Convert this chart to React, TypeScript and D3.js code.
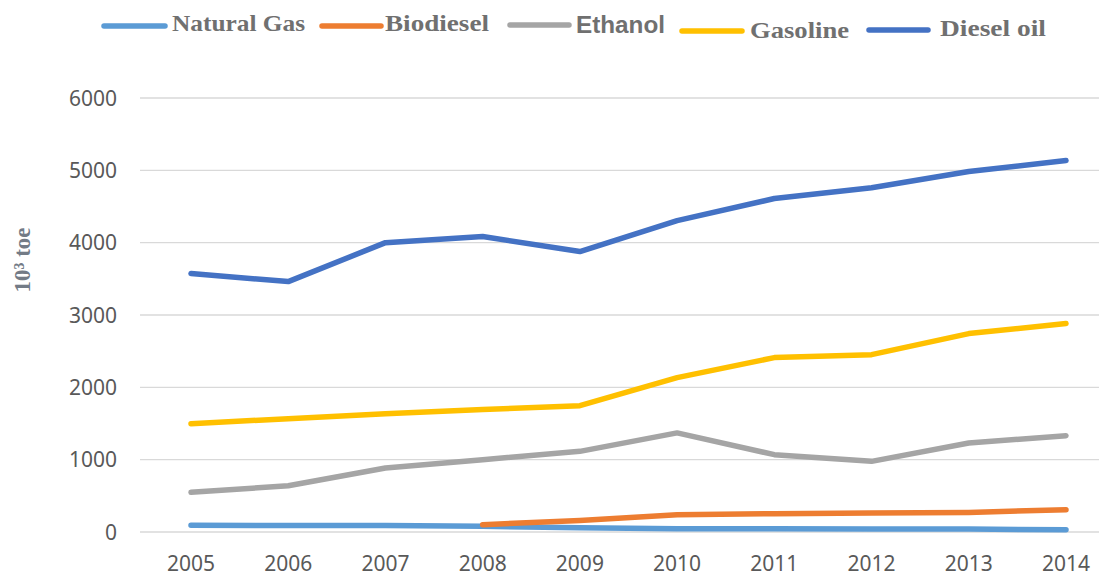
import React from 'react';
import * as d3 from 'd3';

const width = 1099;
const height = 576;

const years = ['2005', '2006', '2007', '2008', '2009', '2010', '2011', '2012', '2013', '2014'];
const yTicks = [0, 1000, 2000, 3000, 4000, 5000, 6000];

const naturalGas = [92, 90, 90, 78, 60, 46, 45, 42, 40, 32];
const biodiesel = [null, null, null, 101, 160, 240, 253, 263, 271, 308];
const ethanol = [548, 640, 885, 1000, 1115, 1370, 1069, 977, 1231, 1332];
const gasoline = [1498, 1567, 1636, 1692, 1747, 2134, 2411, 2452, 2743, 2881];
const dieselOil = [3573, 3462, 4000, 4085, 3877, 4305, 4610, 4760, 4985, 5135];

const seriesNames = ['Natural Gas', 'Biodiesel', 'Ethanol', 'Gasoline', 'Diesel oil'];
const seriesColors = ['#5b9bd5', '#ed7d31', '#a5a5a5', '#ffc000', '#4472c4'];
const seriesValues = [naturalGas, biodiesel, ethanol, gasoline, dieselOil];

// legend layout (line start, line end, line y, text start, text width, baseline)
const legendLayout = [
  { x1: 104, x2: 165, ly: 26, tx: 172, tw: 133, ty: 31, font: 'Liberation Serif' },
  { x1: 322, x2: 381, ly: 26, tx: 385, tw: 104, ty: 31, font: 'Liberation Serif' },
  { x1: 510, x2: 569, ly: 25, tx: 576, tw: 89, ty: 33, font: 'Liberation Sans' },
  { x1: 682, x2: 742, ly: 31, tx: 750, tw: 99, ty: 38, font: 'Liberation Serif' },
  { x1: 869, x2: 928, ly: 30, tx: 940, tw: 106, ty: 36, font: 'Liberation Serif' },
];

const App = () => {
  const x = d3.scalePoint<string>().domain(years).range([191, 1066]);
  const y = d3.scaleLinear().domain([0, 6000]).range([532, 98]);

  const line = d3
    .line<number | null>()
    .defined(d => d != null)
    .x((_, i) => x(years[i]) as number)
    .y(d => y(d as number));

  return (
    <svg
      width={width}
      height={height}
      style={{ position: 'absolute', left: 0, top: 0, background: '#fff' }}
    >
      {yTicks.map(t => (
        <g key={t}>
          <line x1={140} x2={width} y1={y(t)} y2={y(t)} stroke="#d9d9d9" strokeWidth={1.3} />
          <text
            x={117}
            y={y(t)}
            dy="0.36em"
            textAnchor="end"
            fontFamily="Noto Sans, sans-serif"
            fontSize={21}
            fill="#595959"
          >
            {t}
          </text>
        </g>
      ))}

      {years.map(yr => (
        <text
          key={yr}
          x={x(yr)}
          y={571}
          textAnchor="middle"
          fontFamily="Noto Sans, sans-serif"
          fontSize={21}
          fill="#595959"
        >
          {yr}
        </text>
      ))}

      <text
        transform="translate(30,260) rotate(-90)"
        textAnchor="middle"
        fontFamily="Liberation Serif, serif"
        fontWeight="bold"
        fontSize={23}
        fill="#737b86"
      >
        10³ toe
      </text>

      {seriesValues.map((vals, i) => (
        <path
          key={seriesNames[i]}
          d={line(vals) || ''}
          fill="none"
          stroke={seriesColors[i]}
          strokeWidth={5.5}
          strokeLinecap="round"
          strokeLinejoin="round"
        />
      ))}

      {seriesNames.map((name, i) => {
        const l = legendLayout[i];
        return (
          <g key={name}>
            <line
              x1={l.x1}
              x2={l.x2}
              y1={l.ly}
              y2={l.ly}
              stroke={seriesColors[i]}
              strokeWidth={5.5}
              strokeLinecap="round"
            />
            <text
              x={l.tx}
              y={l.ty}
              fontFamily={l.font}
              fontWeight="bold"
              fontSize={l.font === 'Liberation Sans' ? 23 : 24}
              fill="#707070"
              textLength={l.tw}
              lengthAdjust="spacingAndGlyphs"
            >
              {name}
            </text>
          </g>
        );
      })}
    </svg>
  );
};

export default App;
